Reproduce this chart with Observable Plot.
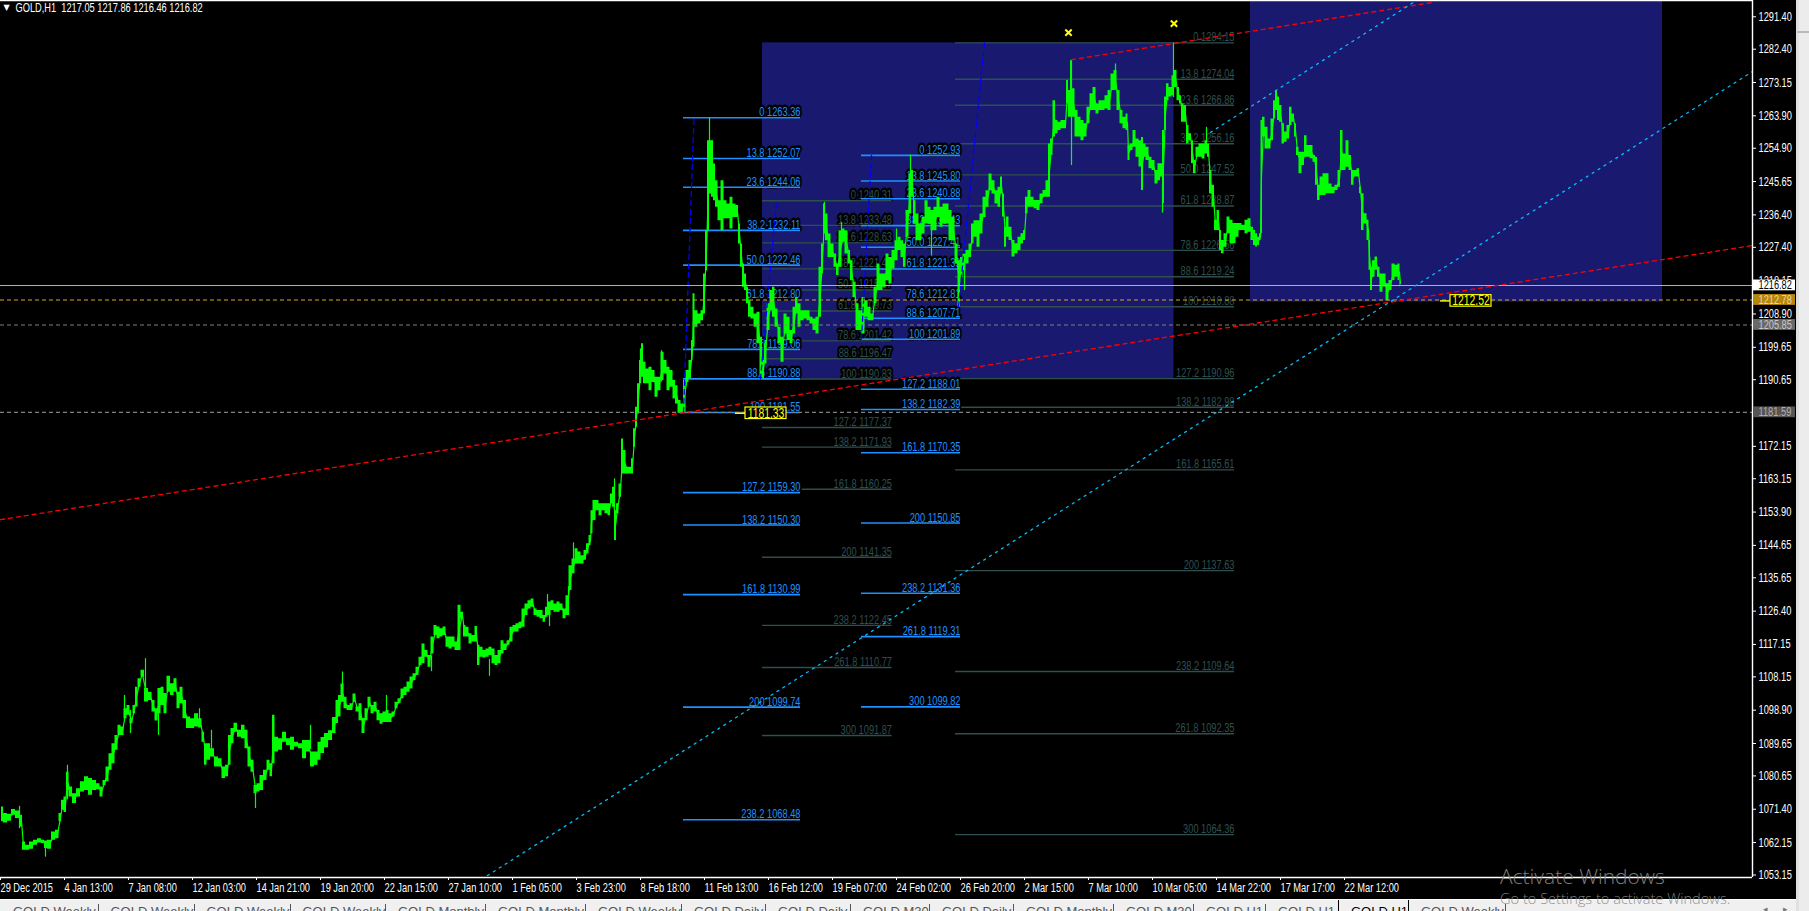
<!DOCTYPE html>
<html><head><meta charset="utf-8">
<script src="https://cdn.jsdelivr.net/npm/d3@7"></script>
<script src="https://cdn.jsdelivr.net/npm/@observablehq/plot@0.6"></script>
<style>
html,body{margin:0;padding:0;background:#f0f0f0;overflow:hidden;width:1809px;height:911px}
#wrap{position:relative;width:1809px;height:911px;overflow:hidden}
#chart{position:absolute;left:0;top:0;width:1809px;height:899px;background:#000}
#chart svg{display:block;background:#000}
#strip{position:absolute;left:0;top:899px;width:1796px;height:12px;background:#f0f0f0;border-top:1.5px solid #fff;box-sizing:border-box;overflow:hidden;font:13px "Liberation Sans",Arial,sans-serif;color:#555}
#strip span{position:absolute;top:4px;white-space:nowrap}
#strip i{position:absolute;top:4px;width:1px;height:8px;background:#555}
#side{position:absolute;left:1796px;top:0;width:13px;height:911px;background:#ececec;border-left:3px solid #e0e0e0;box-sizing:border-box}
.wm{position:absolute;color:#8a8a8a;font-family:"Open Sans","Noto Sans",sans-serif;white-space:nowrap;opacity:.9;pointer-events:none}
</style></head><body>
<div id="wrap"><div id="chart"></div><div id="strip"></div><div id="side"></div>
<div style="position:absolute;left:1797px;top:31px;width:12px;height:2px;background:#bbb"></div>
<div class="wm" style="left:1500px;top:862px;font-size:21px;font-weight:300">Activate Windows</div>
<div class="wm" style="left:1500px;top:888px;font-size:14.6px;font-weight:300">Go to Settings to activate Windows.</div>
<div style="position:absolute;left:1763px;top:904px;font:9px sans-serif;color:#777">◂</div>
<div style="position:absolute;left:1783px;top:904px;font:9px sans-serif;color:#777">▸</div>
</div>
<script>
// H1 price bars: [bar, low, high]
const priceBars = [
[1,1067.9,1072.0],[5,1067.6,1070.2],[9,1068.1,1070],[13,1069.7,1071.3],[17,1068.8,1070.9],[21,1066.5,1069.7],[23,1060,1062.3],[27,1060,1061.4],[31,1060.3,1062.3],[35,1061.4,1062.8],[39,1062,1063.2],[43,1061.9,1062.8],[45,1060.5,1062.6],[49,1060.3,1062.8],[53,1062.8,1065.1],[57,1063.2,1065.6],[60,1067.9,1070.2],[62,1071.1,1073.9],[65,1070.5,1074.8],[67,1076.6,1081.7],[70,1074.8,1077.6],[74,1073,1075.7],[78,1074.8,1077.1],[82,1076.2,1079],[86,1076.6,1080.4],[90,1075.3,1079.9],[94,1076.6,1079.4],[98,1076.8,1078.5],[101,1074.8,1077.6],[104,1078,1079.4],[107,1079,1083.1],[110,1082.2,1086.8],[113,1084,1089.6],[116,1087.75,1091.9],[119,1091.9,1094.7],[122,1091.9,1094.2],[125,1096.5,1099.3],[128,1097.5,1100.2],[131,1095.1,1096.5],[134,1097.9,1100.2],[136,1099.8,1105.3],[139,1105.3,1107.6],[142,1108.1,1110],[146,1101.2,1104.9],[150,1101.6,1103.9],[153,1098.4,1101.6],[156,1095.9,1099.3],[159,1097.9,1104.9],[162,1100.2,1105.3],[165,1097.9,1103.5],[168,1103.9,1108.3],[172,1103,1106.25],[175,1103.9,1107.6],[178,1099.3,1103.9],[181,1100.7,1105.3],[184,1096.5,1101.6],[188,1093.8,1097],[192,1093.8,1096.5],[196,1094.2,1097.9],[200,1094,1096.5],[203,1090,1092.8],[205,1083.6,1089.6],[208,1085,1089.6],[212,1085.9,1088.2],[216,1083.1,1085.9],[220,1083.1,1085.4],[223,1079.9,1083.1],[227,1080.4,1083.6],[229,1083.6,1091.9],[232,1089.6,1093.8],[235,1092.8,1095.3],[239,1091.4,1093.3],[243,1091,1094.7],[246,1088.2,1093.3],[249,1083.1,1088.7],[252,1081.7,1085],[255,1075.7,1078],[258,1076.2,1078.5],[261,1076.6,1080.8],[265,1079.4,1082.2],[268,1082.2,1085],[271,1080.4,1084],[273,1084,1097.5],[276,1087.3,1091.4],[280,1087.75,1091],[284,1090,1092.8],[288,1089.1,1091],[292,1087.75,1091.4],[296,1088.7,1090],[300,1088.2,1089.6],[304,1085.4,1090.5],[308,1087.3,1090.5],[312,1083.1,1087.3],[316,1083.6,1087.3],[319,1085,1090],
[322,1086.9,1091.3],[326,1088.5,1092.4],[330,1090.5,1093.2],[334,1092.4,1096.9],[337,1095.2,1101.6],[339,1097,1103],[342,1101.1,1106.2],[345,1099.3,1102.5],[348,1098.8,1100.2],[351,1098.8,1100.7],[354,1101.1,1103.4],[357,1098.4,1099.8],[360,1096,1100.7],[363,1092.4,1096.6],[366,1096,1099.3],[369,1099.8,1102.5],[372,1097.9,1100.2],[375,1098.4,1101.1],[378,1096,1098.8],[381,1095,1097.9],[384,1095.5,1098.4],[387,1095.5,1098.8],[390,1095.5,1097.9],[393,1097,1098.4],[396,1099.3,1101.1],[399,1100.7,1102.1],[402,1102.1,1104.8],[405,1103,1105.3],[408,1103.9,1106.7],[411,1104.8,1108.1],[414,1107.15,1109],[417,1108.5,1110.8],[420,1111.3,1113.6],[423,1111.8,1117.3],[426,1113.6,1115.5],[429,1110.8,1114.1],[432,1114.5,1119.2],[435,1119.6,1122.4],[438,1118.7,1122],[441,1119.2,1121.5],[444,1119.6,1122],[447,1116.4,1119.2],[450,1115.9,1119.2],[453,1116.4,1119.2],[456,1115.5,1117.8],[459,1115.5,1128],[462,1124.3,1126.1],[464,1119.2,1122.4],[467,1119.2,1121.95],[470,1117.3,1120.1],[473,1117.8,1119.6],[476,1117.8,1122.1],[478,1111.3,1116.9],[481,1113.6,1116.4],[484,1113.4,1115.5],[487,1113.6,1115.9],[490,1114.1,1116.4],[493,1111.8,1115.9],[496,1111.3,1114.1],[499,1111.8,1115.5],[502,1114.5,1118.2],[505,1115.5,1117.3],[508,1116.9,1118.2],[511,1117.8,1121.95],[514,1120.6,1122.4],[517,1120.6,1122.9],[520,1121.5,1123.3],[523,1121.95,1127],[526,1125.2,1128.4],[529,1127,1129.3],[532,1127.5,1129.8],[535,1125.2,1127],[538,1124.7,1126.6],[541,1124.3,1126.6],[544,1123.3,1125.2],[546,1124.7,1127.5],[549,1125.2,1128.9],[552,1126.6,1129.3],[555,1126.1,1128.4],[558,1126.1,1128.9],[561,1126.6,1128.4],[564,1124.3,1127],[567,1125.2,1130.7],[570,1132.1,1139],[573,1136.75,1140.9],[576,1139.5,1143.7],[579,1139.5,1142.8],[582,1139.5,1141.8],[585,1140.5,1143.2],[587,1142.3,1145.1],[590,1144.6,1147.4],
[591,1147.85,1154.3],[594,1151.55,1157.1],[597,1154.3,1157.1],[600,1152.9,1156.2],[603,1154.3,1156.2],[606,1153.4,1156.2],[609,1152.9,1156.2],[611,1156.2,1158.95],[613,1155.25,1160.8],[615,1146,1154.3],[617,1153.4,1156.2],[620,1158,1161.7],[622,1164.5,1174.2],[624,1164.5,1171],[627,1164.5,1166.35],[630,1164.5,1166.35],[632,1164.5,1168.7],[634,1171.9,1177],[636,1177.45,1183],[638,1181.15,1189.5],[640,1189.5,1196],[642,1191.3,1200.6],[644,1189.5,1195.5],[647,1189.5,1193.6],[650,1187.6,1194.1],[653,1189.9,1193.2],[656,1185.8,1191.3],[659,1187.6,1191.3],[662,1190.4,1198.3],[665,1192.25,1196],[668,1187.6,1194.1],[671,1188.55,1193.2],[674,1185.3,1190.4],[676,1183.9,1189],[679,1181.35,1184.85],[682,1181.35,1183.9],[684,1181.6,1190.4],[687,1189.9,1193.2],[690,1190.9,1196],[692,1196,1201.5],
[693,1199.65,1214.5],[696,1205.2,1209.8],[699,1206.1,1208.9],[702,1207,1209.8],[704,1208.9,1220],[706,1220.9,1232],[708,1232,1257],[710,1242.2,1257],[712,1241.3,1257],[714,1240.35,1250.5],[716,1238.5,1245.9],[719,1234.8,1240.35],[722,1232,1245.9],[725,1235.3,1240.35],[728,1235.3,1239.4],[731,1232.5,1241.3],[734,1235.7,1239.4],[737,1235.7,1239],[739,1228.3,1233.9],[741,1221.85,1228.3],[743,1216.3,1222.8],[745,1215.4,1220],[747,1211.7,1216.3],[749,1208,1212.6],[752,1207.5,1210.75],[755,1205.2,1208.9],[758,1200.6,1209.4],[761,1191.3,1202.4],[763,1190.9,1196],[765,1195,1201.5],[768,1204.3,1211.7],[771,1209.8,1215.4],[773,1208,1216.3],[776,1205.2,1210.3],[779,1200.6,1205.2],[782,1195.5,1202.4],[785,1203.35,1208.9],[788,1201.5,1208],[791,1200.6,1204.3],[794,1203.35,1210.75],[796,1208.9,1213.5],[799,1205.2,1211.7],[802,1207,1209.8],[805,1207.5,1209.8],[808,1207,1209.8],[811,1206.1,1208],[814,1204.3,1207.5],[817,1203.35,1208],[820,1208,1221.85],[822,1220,1228.3],[824,1231.1,1239.4],[826,1229.25,1236.65],[829,1224.6,1231.1],[832,1224.6,1228.3],[835,1221.85,1225.55],[837,1219.55,1222.8],[840,1221.85,1232],[843,1228.8,1232.5],[846,1225.55,1232],[849,1222.8,1226.5],[851,1218.15,1223.7],[854,1213.5,1217.7],[857,1204.3,1211.7],[860,1204.3,1209.8],[863,1203.35,1213.5],[866,1208,1212.6],[869,1207,1210.75],[872,1207,1208.9],[875,1211.7,1216.3],[878,1215.4,1222.8],[881,1215.4,1220],[884,1216.3,1220],[887,1218.15,1225.55],[890,1217.2,1224.6],[893,1221.4,1226.5],[896,1223.7,1229.25],[899,1226.5,1230.2],[902,1224.6,1229.25],[904,1221.85,1228.3],[907,1230.2,1237.6],[910,1236.65,1247.75],[912,1241.3,1248.7],[914,1233.9,1240.35],[917,1229.25,1236.65],[920,1229.25,1233.9],[923,1231.1,1235.75],[926,1233.9,1240.35],[929,1233.9,1238.5],[932,1232,1237.6],[935,1232,1238.5],[938,1235.7,1241.3],[941,1232.95,1238.5],[944,1233.9,1239.4],[947,1233.9,1239.4],[950,1229.25,1237.6],[953,1229.25,1235.75],[956,1222.8,1228.3],[959,1210.75,1223.7],[961,1219.05,1224.6],[964,1220.9,1225.55],[967,1222.8,1226.5],[970,1224.6,1228.3],[972,1228.3,1233.9],[975,1230.2,1234.8],[978,1227.4,1234.8],[981,1231.1,1236.65],[984,1235.7,1241.3],[987,1238.5,1243.1],[990,1243.1,1247.75],[993,1242.2,1245.9],[996,1239.4,1243.1],[999,1238.5,1244.05],
[1001,1242.2,1246.9],[1003,1235.8,1242.2],[1005,1227.4,1233],[1007,1230.2,1235.8],[1010,1229.3,1233],[1013,1224.7,1229.3],[1016,1225.6,1228.4],[1019,1226.5,1230.2],[1022,1228.4,1231.2],[1024,1229.3,1232.1],[1026,1236.7,1241.3],[1029,1238.5,1243.2],[1032,1238.5,1241.3],[1035,1238.1,1240.4],[1038,1237.6,1240.4],[1041,1239.5,1242.2],[1044,1241.3,1243.2],[1047,1241.3,1245.9],[1049,1241.3,1256.1],[1051,1252.9,1257.5],[1054,1258,1268.1],[1056,1258.9,1262.6],[1059,1259.8,1262.1],[1062,1260.3,1262.6],[1065,1260.3,1262.6],[1067,1267.2,1273.7],[1069,1263.5,1270.9],[1071,1263.5,1279.2],[1073,1263.5,1271.4],[1076,1258,1265.4],[1079,1258,1263.5],[1082,1257,1262.6],[1085,1258,1261.7],[1088,1261.7,1266.3],[1091,1265.4,1270],[1094,1265.4,1271.8],[1097,1264.4,1267.2],[1100,1265.4,1268.1],[1103,1265.4,1268.1],[1106,1265.8,1269.5],[1109,1265.4,1270.9],[1112,1270.9,1275.5],[1115,1270.9,1276.5],[1118,1265.4,1270.9],[1121,1261.7,1265.4],[1124,1260.3,1263.5],[1127,1259.8,1264.4],[1128,1251.5,1255.6],[1131,1254.3,1256.1],[1134,1255.2,1259.8],[1137,1252.4,1257.5],[1140,1249.7,1257],[1142,1243.2,1257.9],[1144,1252.4,1256.1],[1147,1251.5,1255.2],[1150,1249.2,1252.4],[1153,1248.7,1251.5],[1156,1245,1248.7],[1159,1245.9,1250.6],[1161,1246.9,1250.6],[1163,1239.5,1259.8],[1165,1259.8,1269.1],[1167,1268.1,1272.8],[1170,1269.1,1271.8],[1173,1269.5,1275],[1175,1271.8,1276.5],[1178,1268.1,1271.8],[1180,1267.2,1269.5],[1182,1262.1,1267.2],[1185,1262.1,1266.8],[1187,1256.1,1261.2],[1190,1257,1258.9],[1192,1250.6,1257],[1194,1247.8,1251.5],[1197,1252.4,1255.2],[1200,1252.4,1256.1],[1203,1251.9,1256.1],[1206,1253.3,1257],[1208,1252.4,1256.1],[1210,1242.2,1248.7],[1213,1238.5,1244.6],[1215,1232.1,1234.9],[1218,1232.1,1237.6],[1220,1226.5,1232.1],[1222,1225.6,1229.3],[1225,1227.4,1231.2],[1228,1231.2,1235.8],[1231,1228.4,1234.9],[1234,1228.4,1234],[1237,1230.2,1234],[1240,1232.1,1234],[1243,1232.1,1233.5],[1246,1231.2,1234.9],[1249,1231.6,1235.3],
[1252,1229.3,1233],[1254,1227.9,1232.1],[1256,1227.5,1231.2],[1258,1227.9,1230.2],[1260,1229.3,1231.2],[1261,1231.2,1262.6],[1263,1258,1263.5],[1266,1254.7,1260.7],[1269,1254.7,1257.5],[1272,1257,1263],[1274,1263,1268.1],[1276,1265.4,1270.9],[1278,1262.6,1269.1],[1280,1262.1,1266.8],[1283,1256.1,1261.7],[1285,1256.6,1259.4],[1288,1257.5,1261.2],[1290,1261.2,1266.3],[1293,1262.1,1264.4],[1295,1258,1261.7],[1297,1252.9,1255.2],[1300,1247.8,1253.8],[1303,1250.1,1253.8],[1305,1252.4,1258.4],[1308,1252.4,1255.7],[1311,1252,1255.7],[1314,1251,1252.9],[1316,1244.6,1252.4],[1318,1240.4,1244.6],[1321,1241.8,1246.9],[1324,1241.8,1247.8],[1327,1242.3,1247.8],[1330,1242.3,1245],[1333,1242.3,1244.1],[1336,1243.2,1244.6],[1339,1244.1,1248.7],[1341,1248.7,1259.8],[1344,1248.7,1253.3],[1347,1249.6,1257],[1350,1248.7,1252.9],[1352,1244.6,1248.7],[1355,1246.9,1248.7],[1358,1246.9,1249.2],[1360,1242.3,1244.1],[1362,1232.1,1242.3],[1365,1233.9,1236.7],[1368,1229.3,1234.9],[1369,1221,1229.3],[1371,1215.4,1221.9],[1373,1219.1,1223.7],[1376,1221,1224.7],[1378,1219.1,1221.9],[1381,1214.9,1220],[1384,1216.4,1220],[1387,1212.6,1217.3],[1390,1215.4,1218.2],[1393,1218.2,1222.8],[1396,1219.1,1222.4],[1399,1218.2,1222.8],[1400,1216.4,1218.2]
];
// thin spikes sticking out of the bar mass: [bar, low, high]
const spikes = [
[19,1066,1072.2],[45,1058.1,1062],[67,1074,1083.6],[124,1096,1103],[130,1092.4,1098.8],[145,1101.6,1113.2],[158,1091.9,1104.4],[199,1094,1099.3],[211,1086,1093.3],[255,1071.6,1078],[310,1088,1094.7],[342,1103,1109.5],[386,1097,1103],[431,1109.6,1114],[489,1108.3,1113],[547,1126,1131],[549,1122.1,1126],[568,1125.2,1133.2],[573,1140,1145.35],[614,1155,1163.1],[640,1190,1199.2],[661,1190,1198.7],[709,1250,1263.3],[824,1232,1239.9],[841,1228,1234.3],[896,1226,1232.5],[910,1245,1253],[931,1225,1233],[964,1215.4,1221],[1071,1250.1,1279.2],[1115,1271,1278.3],[1162,1236.9,1245],[1173,1269,1284.1],[1206,1256,1260.7]
];

const yTicks = [1291.40,1282.40,1273.15,1263.90,1254.90,1245.65,1236.40,1227.40,1218.15,1208.90,1199.65,1190.65,1181.40,1172.15,1163.15,1153.90,1144.65,1135.65,1126.40,1117.15,1108.15,1098.90,1089.65,1080.65,1071.40,1062.15,1053.15];
const timeLabels = ["29 Dec 2015","4 Jan 13:00","7 Jan 08:00","12 Jan 03:00","14 Jan 21:00","19 Jan 20:00","22 Jan 15:00","27 Jan 10:00","1 Feb 05:00","3 Feb 23:00","8 Feb 18:00","11 Feb 13:00","16 Feb 12:00","19 Feb 07:00","24 Feb 02:00","26 Feb 20:00","2 Mar 15:00","7 Mar 10:00","10 Mar 05:00","14 Mar 22:00","17 Mar 17:00","22 Mar 12:00"];
const timeBars = timeLabels.map((_,i)=>i*64);

// Fibonacci sets: levels, prices, bar span
const fibA = {span:[683,800],color:"#1E90FF",levels:["0","13.8","23.6","38.2","50.0","61.8","78.6","88.6","100","127.2","138.2","161.8","200","238.2"],prices:[1263.36,1252.07,1244.06,1232.11,1222.46,1212.80,1199.06,1190.88,1181.55,1159.30,1150.30,1130.99,1099.74,1068.48]};
const fibB = {span:[762,891.5],color:"#2F4F4F",levels:["0","13.8","23.6","38.2","50.0","61.8","78.6","88.6","100","127.2","138.2","161.8","200","238.2","261.8","300"],prices:[1240.31,1233.48,1228.63,1221.41,1215.57,1209.73,1201.42,1196.47,1190.83,1177.37,1171.93,1160.25,1141.35,1122.45,1110.77,1091.87]};
const fibC = {span:[861,960],color:"#1E90FF",levels:["0","13.8","23.6","38.2","50.0","61.8","78.6","88.6","100","127.2","138.2","161.8","200","238.2","261.8","300"],prices:[1252.93,1245.80,1240.88,1233.43,1227.41,1221.39,1212.81,1207.71,1201.89,1188.01,1182.39,1170.35,1150.85,1131.36,1119.31,1099.82]};
const fibD = {span:[955,1234],color:"#2F4F4F",levels:["0","13.8","23.6","38.2","50.0","61.8","78.6","88.6","100","127.2","138.2","161.8","200","238.2","261.8","300"],prices:[1284.15,1274.04,1266.86,1256.16,1247.52,1238.87,1226.56,1219.24,1210.88,1190.96,1182.98,1165.61,1137.63,1109.64,1092.35,1064.36]};

const zones = [{x1:762,x2:1173.5,y1:1190.83,y2:1284.15},{x1:1250,x2:1662,y1:1212.2,y2:1295.92}];
const redLines = [[[0,1151.8],[1752,1227.9]],[[1071,1279.5],[1433,1295.4]]];
const cyanLines = [[[487,1053],[1752,1276.2]],[[1210,1259.3],[1413,1295.4]]];
const fibBase = [[[683,1181.6],[693.5,1263.36]],[[760,1190.83],[776,1240.31]],[[861,1201.89],[871,1252.93]],[[958,1210.88],[984,1284.15]]];
const levelLines = [{p:1216.82,c:"#b0b0b0",d:null},{p:1212.78,c:"#DAA520",d:"4 3"},{p:1205.85,c:"#808080",d:"4 3"},{p:1181.59,c:"#808080",d:"4 3"}];
const priceTags = [{p:1181.33,from:735,x1:745,x2:786},{p:1212.52,from:1440,x1:1450,x2:1491}];
const marks_x = [{x:1068,p:1287},{x:1173.5,p:1289.5}];
const sideTags = [{p:1216.82,bg:"#ffffff",fg:"#000000"},{p:1212.78,bg:"#B8860B",fg:"#e6d9a8"},{p:1205.85,bg:"#696969",fg:"#c8c8c8"},{p:1181.59,bg:"#555555",fg:"#b0b0b0"}];
const headerText = "GOLD,H1  1217.05 1217.86 1216.46 1216.82";
const tabNames = ["GOLD,Weekly","GOLD,Weekly","GOLD,Weekly","GOLD,Weekly","GOLD,Monthly","GOLD,Monthly","GOLD,Weekly","GOLD,Daily","GOLD,Daily","GOLD,M30","GOLD,Daily","GOLD,Monthly","GOLD,M30","GOLD,H1","GOLD,H1","GOLD,H1","GOLD,Weekly"];
const tabEdges = [0,97.5,193.5,289.5,385,485,585,681,765,850,929,1013,1113,1193,1265,1338,1408,1505];

const FONT = '"Liberation Sans",sans-serif';
const SIZE = 12.5;
const bars = priceBars.map(([bar,low,high])=>({bar,low,high}));
const spikeRows = spikes.map(([bar,low,high])=>({bar,low,high}));
const fibRows = f => f.levels.map((l,i)=>({level:l,price:f.prices[i],x1:f.span[0],x2:f.span[1],label:`${l} ${f.prices[i].toFixed(2)}`}));
const hiddenUnderLevel = r => Math.abs(r.price-1212.78) < 0.1;
const fibMarks = f => {
  const rows = fibRows(f);
  return [
    Plot.text(rows,{x:"x2",y:"price",text:"label",textAnchor:"end",lineAnchor:"bottom",dy:-1.5,fill:f.color,stroke:"#000",strokeWidth:5,fontSize:SIZE,fontFamily:FONT}),
    Plot.ruleY(rows.filter(r=>!hiddenUnderLevel(r)),{x1:"x1",x2:"x2",y:"price",stroke:f.color,strokeWidth:f.color==="#1E90FF"?1.6:1.4})
  ];
};
const polyLines = (lines,opts) => lines.map(l=>Plot.line(l,{x:d=>d[0],y:d=>d[1],...opts}));

const chart = Plot.plot({
  width:1809,height:899,marginLeft:0,marginRight:57,marginTop:0,marginBottom:22,
  style:{background:"#000",color:"#fff",fontFamily:FONT,fontSize:"12px"},
  x:{type:"linear",domain:[0,1752],range:[0,1752]},
  y:{type:"linear",domain:[1052.45,1295.92],range:[877,0]},
  marks:[
    Plot.rect(zones,{x1:"x1",x2:"x2",y1:"y1",y2:"y2",fill:"#191970"}),
    ...fibMarks(fibB),...fibMarks(fibD),...fibMarks(fibA),...fibMarks(fibC),
    Plot.areaY(bars,{x:"bar",y1:"low",y2:"high",curve:"step",fill:"#00FF00"}),
    Plot.line(bars,{x:"bar",y:d=>(d.low+d.high)/2,stroke:"#00FF00",strokeWidth:1.2}),
    Plot.ruleX(spikeRows,{x:"bar",y1:"low",y2:"high",stroke:"#00FF00",strokeWidth:1.2}),
    ...polyLines(fibBase,{stroke:"#0000FF",strokeWidth:1.3,strokeDasharray:"5 4"}),
    ...levelLines.map(l=>Plot.ruleY([l.p],{stroke:l.c,strokeWidth:1.1,strokeDasharray:l.d})),
    ...polyLines(redLines,{stroke:"#FF0000",strokeWidth:1.3,strokeDasharray:"4 4"}),
    ...polyLines(cyanLines,{stroke:"#00BFFF",strokeWidth:1.3,strokeDasharray:"2 5"}),
    Plot.dot(marks_x,{x:"x",y:"p",symbol:"times",r:3,stroke:"#FFFF00",strokeWidth:2}),
    Plot.ruleY(priceTags,{x1:"from",x2:"x1",y:"p",stroke:"#FFFF00",strokeWidth:1.4}),
    Plot.rect(priceTags,{x1:"x1",x2:"x2",y1:d=>d.p-1.6,y2:d=>d.p+1.6,fill:"#000",stroke:"#FFFF00",strokeWidth:1.2}),
    Plot.text(priceTags,{x:d=>(d.x1+d.x2)/2,y:"p",text:d=>d.p.toFixed(2),fill:"#FFFF00",fontSize:14,fontFamily:FONT}),
    Plot.ruleY([1295.92,1052.45],{x1:0,x2:1752,stroke:"#fff",strokeWidth:1.4}),
    Plot.ruleX([1752],{stroke:"#fff",strokeWidth:1.4}),
    Plot.axisY({anchor:"right",ticks:yTicks,tickFormat:d=>d.toFixed(2),tickSize:3,tickPadding:3,stroke:"#fff",fill:"#fff",label:null,fontSize:SIZE,fontFamily:FONT}),
    Plot.axisX({anchor:"bottom",ticks:timeBars,tickFormat:d=>timeLabels[d/64],tickSize:3,tickPadding:3,stroke:"#fff",fill:"#fff",label:null,textAnchor:"start",fontSize:SIZE,fontFamily:FONT}),
    Plot.rect(sideTags,{x1:()=>1753,x2:()=>1795,y1:d=>d.p-1.5,y2:d=>d.p+1.5,fill:"bg"}),
    Plot.text(sideTags,{x:()=>1758,y:"p",text:d=>d.p.toFixed(2),fill:"fg",textAnchor:"start",fontSize:SIZE,fontFamily:FONT}),
    Plot.text([headerText],{frameAnchor:"top-left",dx:15,dy:3,fill:"#fff",fontSize:SIZE,fontFamily:FONT}),
    Plot.text(["▼"],{frameAnchor:"top-left",dx:3,dy:4,fill:"#fff",fontSize:8,fontFamily:"DejaVu Sans"})
  ]
});
document.getElementById("chart").append(chart);
// the terminal's font is narrower than any installed face: condense every label
chart.querySelectorAll("text").forEach(t=>{
  if(t.textContent==="▼") return;
  const w=t.getComputedTextLength();
  if(w>0){t.setAttribute("textLength",(w*0.74).toFixed(1));t.setAttribute("lengthAdjust","spacingAndGlyphs");}
});

const strip = document.getElementById("strip");
tabNames.forEach((n,i)=>{
  const s=document.createElement("span"); s.textContent=n;
  s.style.left=(tabEdges[i]+13)+"px";
  if(i===15){s.style.color="#000";}
  strip.append(s);
  const e=document.createElement("i"); e.style.left=tabEdges[i+1]+"px";
  if(i===14||i===15){e.style.background="#000";e.style.top="0";e.style.height="12px";}
  strip.append(e);
});
</script>
</body></html>
